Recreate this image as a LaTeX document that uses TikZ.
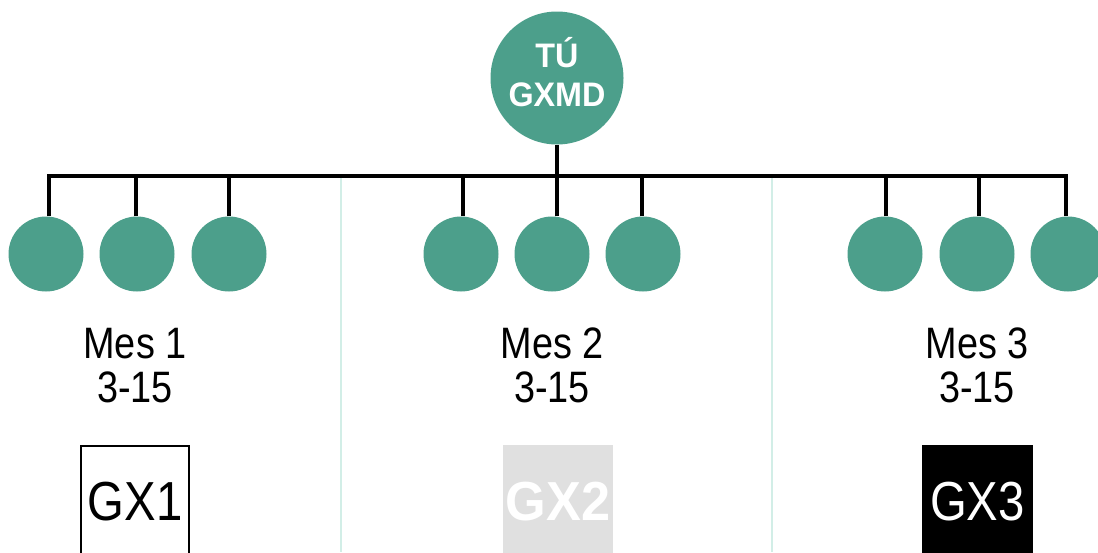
\documentclass[tikz,border=0pt]{standalone}
\usepackage{fontspec}
\setmainfont{Liberation Sans}
\newfontfamily\regfont[FakeStretch=0.86]{Liberation Sans}
\newfontfamily\boldfont[FakeStretch=0.95]{Liberation Sans Bold}
\definecolor{memberteal}{HTML}{4C9F8B}
\definecolor{sepline}{HTML}{D2EEE7}
\definecolor{boxgray}{HTML}{E0E0E0}
\tikzset{
  member/.style={circle, fill=memberteal, minimum size=75pt, inner sep=0pt},
  wire/.style={line width=3.6pt, black},
  divider/.style={line width=2pt, sepline},
  meslabel/.style={anchor=base, inner sep=0pt, font=\regfont\fontsize{44}{50}\selectfont},
  gxlabel/.style={anchor=base, inner sep=0pt, font=\regfont\fontsize{55}{60}\selectfont},
}
\begin{document}
\begin{tikzpicture}[x=1pt,y=-1pt]
\useasboundingbox (0,0) rectangle (1098,552);
\clip (0,0) rectangle (1098,552);

% dividers between the three months
\draw[divider] (341,177) coordinate (d1t) -- (341,552) coordinate (d1b);
\draw[divider] (772,177) coordinate (d2t) -- (772,552) coordinate (d2b);

% leader
\node[circle, fill=memberteal, minimum size=133pt, inner sep=0pt] (top) at (557,78) {};
\node[align=center, inner sep=0pt, text=white,
      font=\boldfont\fontsize{34}{39}\selectfont] (toptext) at ([yshift=6pt]top.center) {TÚ\\GXMD};

% members per month
\node[member] (a1) at (46,254) {};
\node[member] (a2) at (137,254) {};
\node[member] (a3) at (229,254) {};
\node[member] (b1) at (461,254) {};
\node[member] (b2) at (552,254) {};
\node[member] (b3) at (643,254) {};
\node[member] (c1) at (885,254) {};
\node[member] (c2) at (977,254) {};
\node[member] (c3) at (1068,254) {};

% tree connectors
\coordinate (bar) at (557,176);
\draw[wire] ([xshift=3pt]a1.north) |- (bar) -| ([xshift=-2pt]c3.north);
\draw[wire] (top.south) -- (bar);
\foreach \n/\dx in {a2/-1, a3/0, b1/2, b2/5, b3/-1, c1/1, c2/2}
  \draw[wire] ([xshift=\dx pt]\n.north) -- ([xshift=\dx pt]\n.north |- bar);

% month labels
\node[meslabel] (m1) at (135,358) {Mes 1};
\node[meslabel] (r1) at (135,402) {3-15};
\node[meslabel] (m2) at (552,358) {Mes 2};
\node[meslabel] (r2) at (552,402) {3-15};
\node[meslabel] (m3) at (977,358) {Mes 3};
\node[meslabel] (r3) at (977,402) {3-15};

% group boxes
\draw[line width=1.3pt, black, fill=white] (81,446) rectangle (189,570);
\node[gxlabel, text=black] (g1) at (135,520) {GX1};
\fill[boxgray] (503,445) rectangle (613,570);
\node[gxlabel, text=white, font=\boldfont\fontsize{55}{60}\selectfont] (g2) at (558,520) {GX2};
\fill[black] (922,445) rectangle (1033,570);
\node[gxlabel, text=white] (g3) at (977.5,520) {GX3};
\end{tikzpicture}
\end{document}
